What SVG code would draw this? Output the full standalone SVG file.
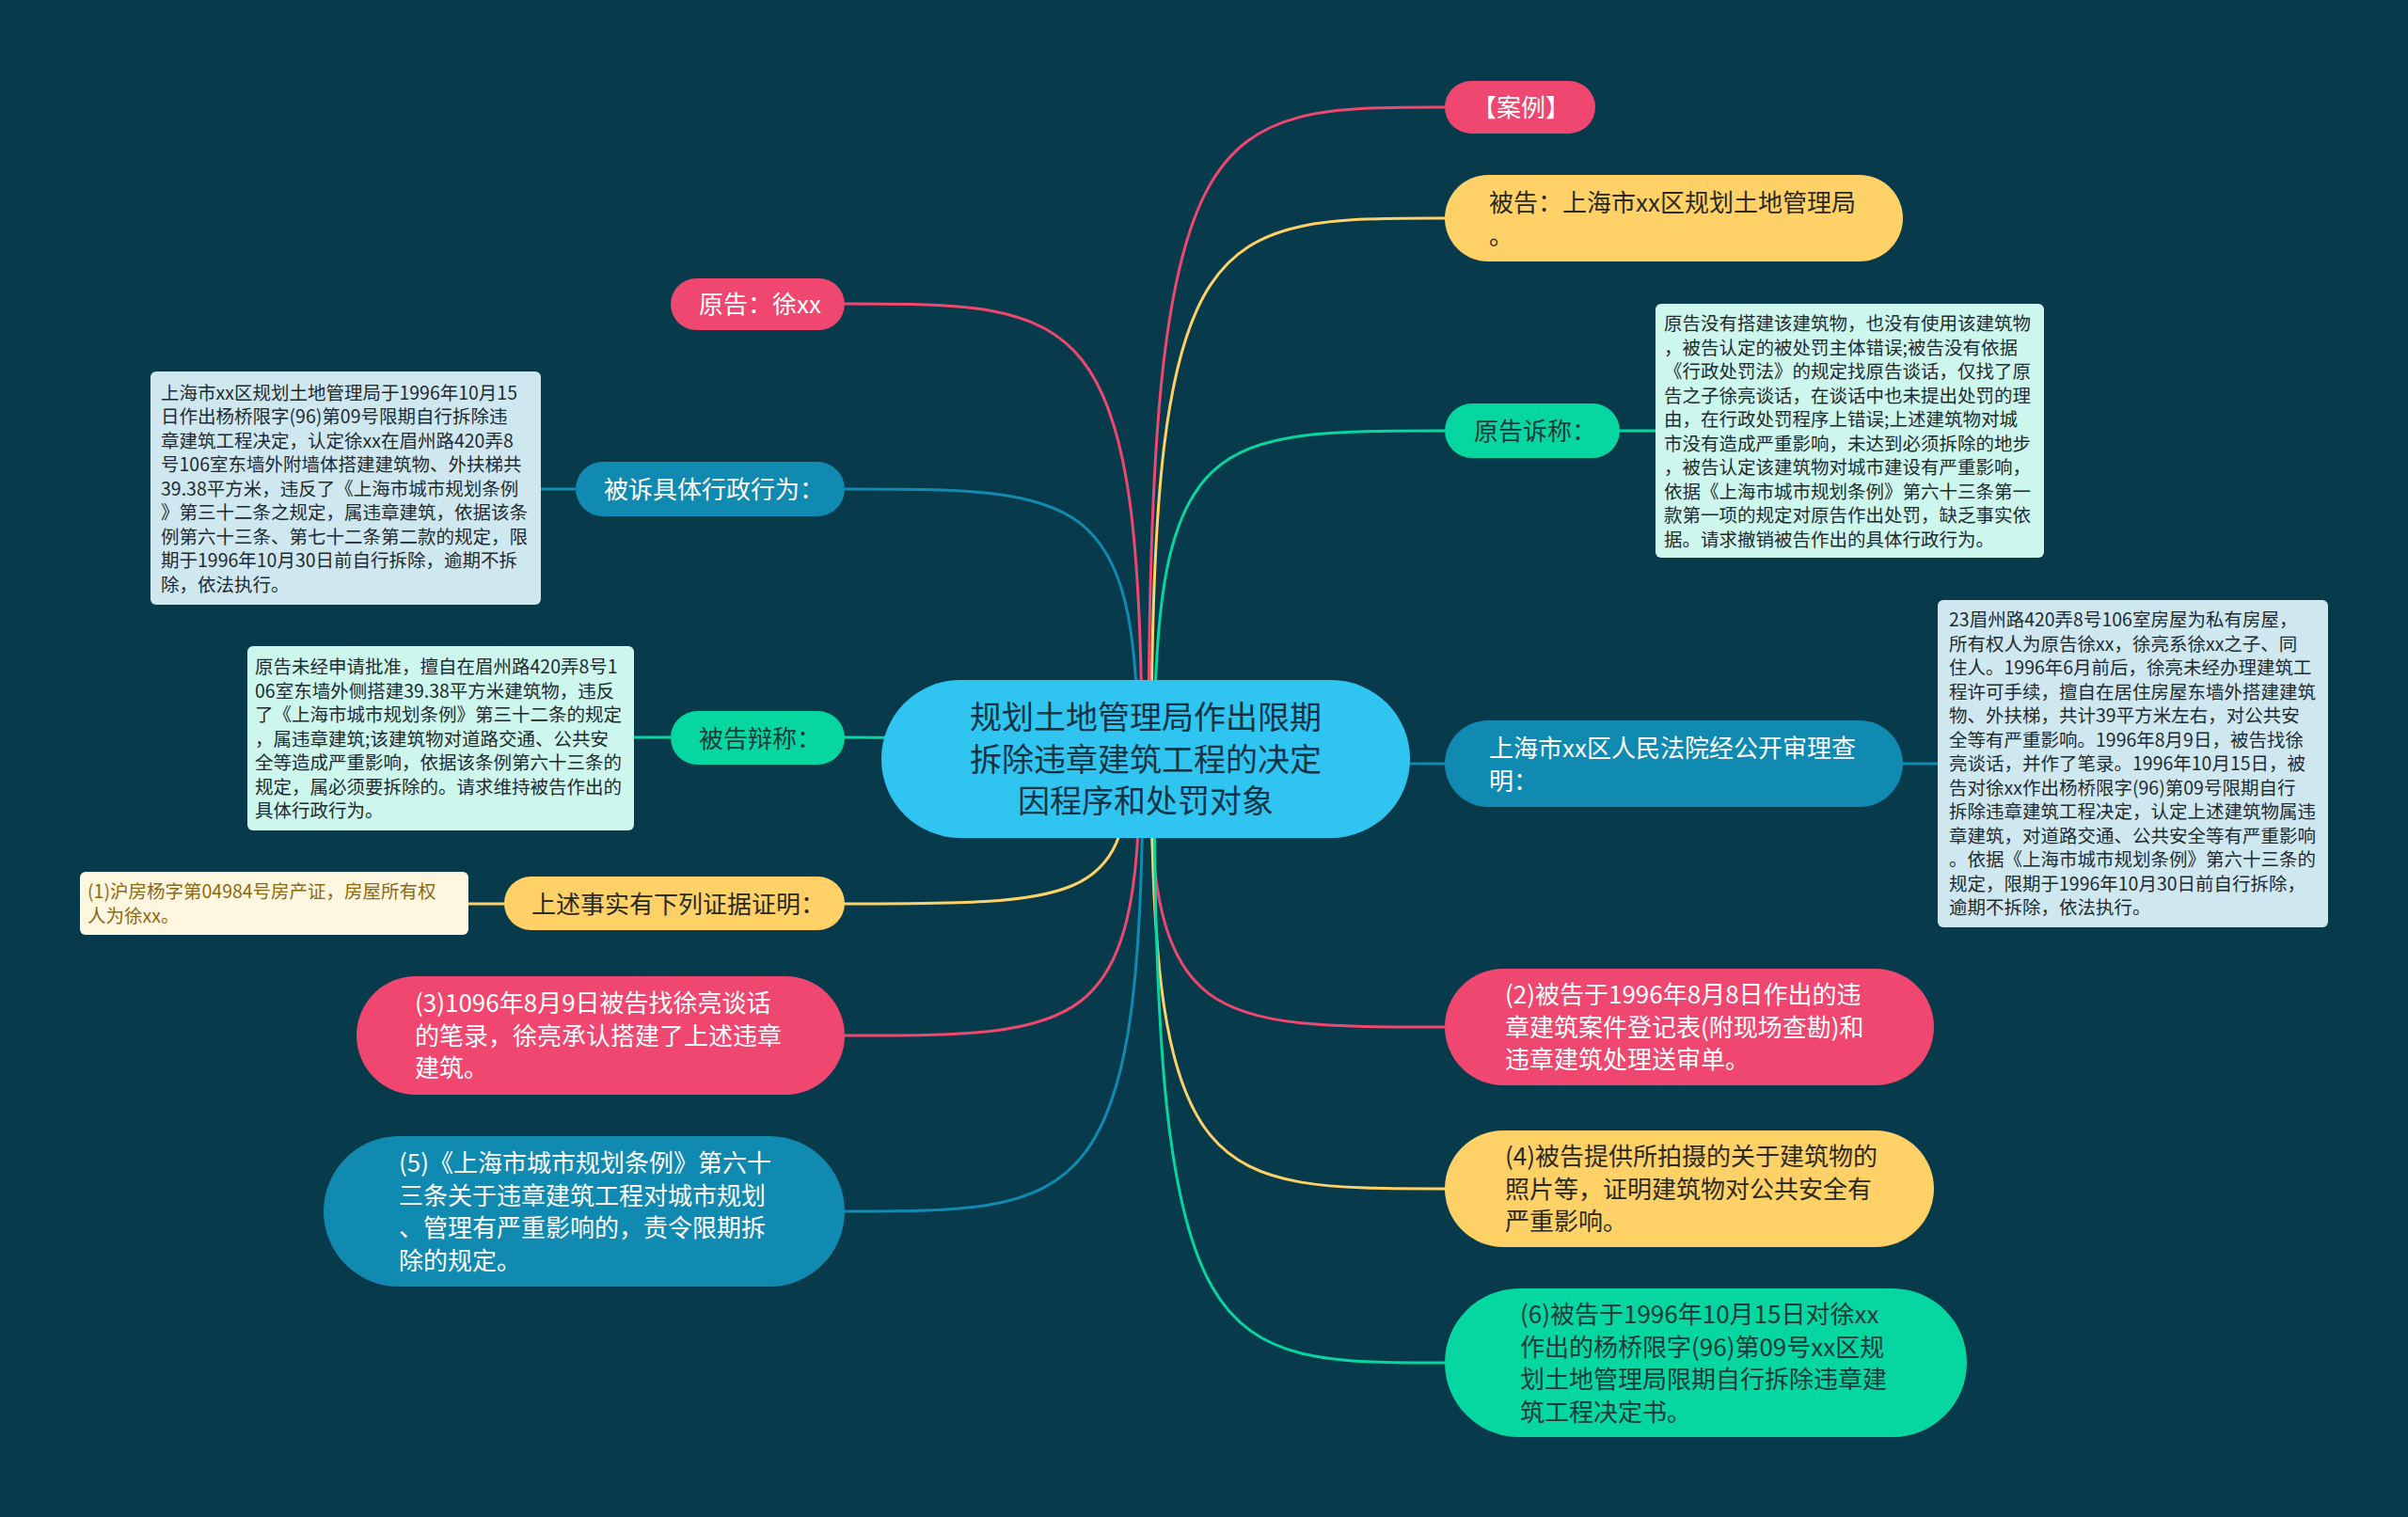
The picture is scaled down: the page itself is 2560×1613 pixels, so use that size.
<svg xmlns="http://www.w3.org/2000/svg" width="2560" height="1613" viewBox="0 0 2560 1613">
<style>
text{font-family:"Noto Sans CJK SC","Microsoft YaHei","Noto Sans",sans-serif}
.conn path{fill:none;stroke-width:3;stroke-linecap:round}
.pk{stroke:#ef476f}.yl{stroke:#ffd166}.gr{stroke:#06d6a0}.bl{stroke:#118ab2}
.fpk{fill:#ef476f}.fyl{fill:#ffd166}.fgr{fill:#06d6a0}.fbl{fill:#118ab2}
.t{font-size:26px}
.tw{fill:#ffffff}.td{fill:#2b2a22}.tg{fill:#173a3a}
.box{font-size:19.5px;fill:#1f2b30}
.bb{fill:#cfe8f0}.bg{fill:#cdf6ec}.by{fill:#fff6df}
.tc{font-size:34px;fill:#0e3446}
</style>
<rect width="2560" height="1613" fill="#073b4c"/>
<g id="connectors" class="conn">
<path class="pk" d="M1221 807 C1221 114 1284 114 1536 114"/>
<path class="yl" d="M1224 807 C1224 232 1286 232 1536 232"/>
<path class="gr" d="M1227 807 C1227 458 1289 458 1536 458"/>
<path class="pk" d="M1214 807 C1214 323 1151 323 898 323"/>
<path class="bl" d="M1210 807 C1210 520 1148 520 898 520"/>
<path class="gr" d="M1218 807 C1150 790 1000 784 898 784"/>
<path class="bl" d="M1218 807 C1300 810 1450 812 1536 812"/>
<path class="yl" d="M1200 807 C1200 961 1140 961 898 961"/>
<path class="pk" d="M1212 807 C1212 1101 1149 1101 898 1101"/>
<path class="bl" d="M1215 807 C1215 1288 1152 1288 898 1288"/>
<path class="pk" d="M1222 807 C1222 1092 1285 1092 1536 1092"/>
<path class="yl" d="M1224 807 C1224 1264 1287 1264 1536 1264"/>
<path class="gr" d="M1227 807 C1227 1449 1289 1449 1536 1449"/>
<path class="bl" d="M575 520 L612 520"/>
<path class="gr" d="M674 784 L713 784"/>
<path class="yl" d="M498 961 L536 961"/>
<path class="gr" d="M1722 458 L1760 458"/>
<path class="bl" d="M2023 812 L2060 812"/>
</g>
<g id="center">
<rect x="937" y="723" width="562" height="168" rx="84" fill="#30c4f1"/>
<text class="tc" text-anchor="middle"><tspan x="1218" y="775">规划土地管理局作出限期</tspan><tspan x="1218" y="820">拆除违章建筑工程的决定</tspan><tspan x="1218" y="864">因程序和处罚对象</tspan></text>
</g>
<g id="n-case">
<rect class="fpk" x="1536" y="86" width="160" height="56" rx="28"/>
<text class="t tw" x="1617" y="124" text-anchor="middle">【案例】</text>
</g>
<g id="n-defendant">
<rect class="fyl" x="1536" y="186" width="487" height="92" rx="46"/>
<text class="t td"><tspan x="1583" y="225">被告：上海市xx区规划土地管理局</tspan><tspan x="1583" y="260">。</tspan></text>
</g>
<g id="n-claim">
<rect class="fgr" x="1536" y="429" width="186" height="58" rx="29"/>
<text class="t tg" x="1567" y="468">原告诉称：</text>
</g>
<g id="d-claim">
<rect class="bg" x="1760" y="323" width="413" height="270" rx="6"/>
<text class="box"><tspan x="1769" y="351">原告没有搭建该建筑物，也没有使用该建筑物</tspan><tspan x="1769" y="376.5">，被告认定的被处罚主体错误;被告没有依据</tspan><tspan x="1769" y="402">《行政处罚法》的规定找原告谈话，仅找了原</tspan><tspan x="1769" y="427.5">告之子徐亮谈话，在谈话中也未提出处罚的理</tspan><tspan x="1769" y="453">由，在行政处罚程序上错误;上述建筑物对城</tspan><tspan x="1769" y="478.5">市没有造成严重影响，未达到必须拆除的地步</tspan><tspan x="1769" y="504">，被告认定该建筑物对城市建设有严重影响，</tspan><tspan x="1769" y="529.5">依据《上海市城市规划条例》第六十三条第一</tspan><tspan x="1769" y="555">款第一项的规定对原告作出处罚，缺乏事实依</tspan><tspan x="1769" y="580.5">据。请求撤销被告作出的具体行政行为。</tspan></text>
</g>
<g id="n-court">
<rect class="fbl" x="1536" y="766" width="487" height="92" rx="46"/>
<text class="t tw"><tspan x="1583" y="805">上海市xx区人民法院经公开审理查</tspan><tspan x="1583" y="840">明：</tspan></text>
</g>
<g id="d-court">
<rect class="bb" x="2060" y="638" width="415" height="348" rx="6"/>
<text class="box"><tspan x="2072" y="666">23眉州路420弄8号106室房屋为私有房屋，</tspan><tspan x="2072" y="691.5">所有权人为原告徐xx，徐亮系徐xx之子、同</tspan><tspan x="2072" y="717">住人。1996年6月前后，徐亮未经办理建筑工</tspan><tspan x="2072" y="742.5">程许可手续，擅自在居住房屋东墙外搭建建筑</tspan><tspan x="2072" y="768">物、外扶梯，共计39平方米左右，对公共安</tspan><tspan x="2072" y="793.5">全等有严重影响。1996年8月9日，被告找徐</tspan><tspan x="2072" y="819">亮谈话，并作了笔录。1996年10月15日，被</tspan><tspan x="2072" y="844.5">告对徐xx作出杨桥限字(96)第09号限期自行</tspan><tspan x="2072" y="870">拆除违章建筑工程决定，认定上述建筑物属违</tspan><tspan x="2072" y="895.5">章建筑，对道路交通、公共安全等有严重影响</tspan><tspan x="2072" y="921">。依据《上海市城市规划条例》第六十三条的</tspan><tspan x="2072" y="946.5">规定，限期于1996年10月30日前自行拆除，</tspan><tspan x="2072" y="972">逾期不拆除，依法执行。</tspan></text>
</g>
<g id="n-e2">
<rect class="fpk" x="1536" y="1030" width="520" height="124" rx="62"/>
<text class="t tw"><tspan x="1600" y="1067">(2)被告于1996年8月8日作出的违</tspan><tspan x="1600" y="1102">章建筑案件登记表(附现场查勘)和</tspan><tspan x="1600" y="1136">违章建筑处理送审单。</tspan></text>
</g>
<g id="n-e4">
<rect class="fyl" x="1536" y="1202" width="520" height="124" rx="62"/>
<text class="t td"><tspan x="1600" y="1239">(4)被告提供所拍摄的关于建筑物的</tspan><tspan x="1600" y="1274">照片等，证明建筑物对公共安全有</tspan><tspan x="1600" y="1308">严重影响。</tspan></text>
</g>
<g id="n-e6">
<rect class="fgr" x="1536" y="1370" width="555" height="158" rx="79"/>
<text class="t tg"><tspan x="1616" y="1407">(6)被告于1996年10月15日对徐xx</tspan><tspan x="1616" y="1442">作出的杨桥限字(96)第09号xx区规</tspan><tspan x="1616" y="1476">划土地管理局限期自行拆除违章建</tspan><tspan x="1616" y="1511">筑工程决定书。</tspan></text>
</g>
<g id="n-plaintiff">
<rect class="fpk" x="713" y="296" width="185" height="55" rx="27.5"/>
<text class="t tw" x="743" y="333">原告：徐xx</text>
</g>
<g id="n-act">
<rect class="fbl" x="612" y="491" width="286" height="58" rx="29"/>
<text class="t tw" x="642" y="530">被诉具体行政行为：</text>
</g>
<g id="d-act">
<rect class="bb" x="160" y="395" width="415" height="248" rx="6"/>
<text class="box"><tspan x="171" y="424.5">上海市xx区规划土地管理局于1996年10月15</tspan><tspan x="171" y="450">日作出杨桥限字(96)第09号限期自行拆除违</tspan><tspan x="171" y="475.5">章建筑工程决定，认定徐xx在眉州路420弄8</tspan><tspan x="171" y="501">号106室东墙外附墙体搭建建筑物、外扶梯共</tspan><tspan x="171" y="526.5">39.38平方米，违反了《上海市城市规划条例</tspan><tspan x="171" y="552">》第三十二条之规定，属违章建筑，依据该条</tspan><tspan x="171" y="577.5">例第六十三条、第七十二条第二款的规定，限</tspan><tspan x="171" y="603">期于1996年10月30日前自行拆除，逾期不拆</tspan><tspan x="171" y="628.5">除，依法执行。</tspan></text>
</g>
<g id="n-defense">
<rect class="fgr" x="713" y="756" width="185" height="57" rx="28.5"/>
<text class="t tg" x="743" y="795">被告辩称：</text>
</g>
<g id="d-defense">
<rect class="bg" x="263" y="687" width="411" height="196" rx="6"/>
<text class="box"><tspan x="271" y="716">原告未经申请批准，擅自在眉州路420弄8号1</tspan><tspan x="271" y="741.5">06室东墙外侧搭建39.38平方米建筑物，违反</tspan><tspan x="271" y="767">了《上海市城市规划条例》第三十二条的规定</tspan><tspan x="271" y="792.5">，属违章建筑;该建筑物对道路交通、公共安</tspan><tspan x="271" y="818">全等造成严重影响，依据该条例第六十三条的</tspan><tspan x="271" y="843.5">规定，属必须要拆除的。请求维持被告作出的</tspan><tspan x="271" y="869">具体行政行为。</tspan></text>
</g>
<g id="n-evidence">
<rect class="fyl" x="536" y="932" width="362" height="57" rx="28.5"/>
<text class="t td" x="565" y="971">上述事实有下列证据证明：</text>
</g>
<g id="d-evidence">
<rect class="by" x="85" y="927" width="413" height="67" rx="6"/>
<text class="box" style="fill:#8a6a12"><tspan x="93" y="955">(1)沪房杨字第04984号房产证，房屋所有权</tspan><tspan x="93" y="980.5">人为徐xx。</tspan></text>
</g>
<g id="n-e3">
<rect class="fpk" x="379" y="1038" width="519" height="126" rx="63"/>
<text class="t tw"><tspan x="441" y="1076">(3)1096年8月9日被告找徐亮谈话</tspan><tspan x="441" y="1111">的笔录，徐亮承认搭建了上述违章</tspan><tspan x="441" y="1145">建筑。</tspan></text>
</g>
<g id="n-e5">
<rect class="fbl" x="344" y="1208" width="554" height="160" rx="80"/>
<text class="t tw"><tspan x="424" y="1246">(5)《上海市城市规划条例》第六十</tspan><tspan x="424" y="1281">三条关于违章建筑工程对城市规划</tspan><tspan x="424" y="1315">、管理有严重影响的，责令限期拆</tspan><tspan x="424" y="1350">除的规定。</tspan></text>
</g>
</svg>
